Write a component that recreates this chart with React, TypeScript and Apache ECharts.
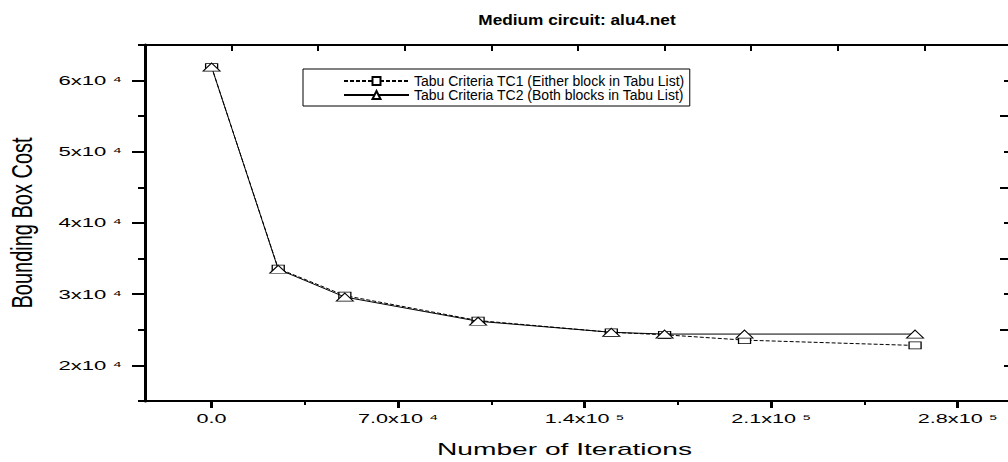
import React, { useEffect, useRef } from 'react';
import * as echarts from 'echarts';

const TITLE = 'Medium circuit: alu4.net';
const X_NAME = 'Number of Iterations';
const Y_NAME = 'Bounding Box Cost';
const SERIES_NAMES = [
  'Tabu Criteria TC1 (Either block in Tabu List)',
  'Tabu Criteria TC2 (Both blocks in Tabu List)',
];
const ITERATIONS = [0, 25000, 50000, 100000, 150000, 170000, 200000, 264000];
const TC1_COST = [61900, 33600, 29800, 26300, 24650, 24300, 23550, 22800];
const TC2_COST = [61900, 33500, 29600, 26200, 24650, 24400, 24400, 24400];

const X_TICKS = [0, 70000, 140000, 210000, 280000];
const X_TICK_LABELS = ['0.0', '7.0x10 ⁴', '1.4x10 ⁵', '2.1x10 ⁵', '2.8x10 ⁵'];
const X_MINOR = [35000, 105000, 175000, 245000];
const Y_TICKS = [20000, 30000, 40000, 50000, 60000];
const Y_TICK_LABELS = ['2x10 ⁴', '3x10 ⁴', '4x10 ⁴', '5x10 ⁴', '6x10 ⁴'];
const Y_MINOR = [15000, 25000, 35000, 45000, 55000, 65000];

const FONT = "'Liberation Sans', Arial, sans-serif";
const X_MIN = -25000;
const X_MAX = 300000;
const Y_MIN = 15000;
const Y_MAX = 65000;

function stretchTexts(host: HTMLDivElement) {
  const svg = host.querySelector('svg');
  if (!svg) return;
  const sr = svg.getBoundingClientRect();
  svg.querySelectorAll('text').forEach((node) => {
    const t = node as SVGTextElement;
    if (t.getAttribute('data-st')) return;
    const c = (t.textContent || '').trim();
    let s = 1;
    let right = false;
    if (X_TICK_LABELS.includes(c)) s = 1.8;
    else if (Y_TICK_LABELS.includes(c)) {
      s = 1.7;
      right = true;
    } else if (c === X_NAME) s = 1.76;
    else if (c === Y_NAME) s = 1.45;
    else if (c === TITLE) s = 1.15;
    if (s === 1) return;
    const r = t.getBoundingClientRect();
    const ax = (right ? r.right : (r.left + r.right) / 2) - sr.left;
    const ay = (r.top + r.bottom) / 2 - sr.top;
    const orig = t.getAttribute('transform') || '';
    t.setAttribute(
      'transform',
      `translate(${ax} ${ay}) scale(${s} 1) translate(${-ax} ${-ay}) ${orig}`.trim()
    );
    t.setAttribute('data-st', '1');
  });
}

export default function App() {
  const ref = useRef<HTMLDivElement>(null);
  useEffect(() => {
    const el = ref.current as HTMLDivElement;
    const chart = echarts.init(el, undefined, { renderer: 'svg' });
    const black = '#000';
    const option: any = {
      animation: false,
      backgroundColor: '#fff',
      title: {
        text: TITLE,
        left: 577,
        top: 12,
        textAlign: 'center',
        padding: 0,
        textStyle: { fontSize: 15, fontWeight: 'bold', color: black, fontFamily: FONT },
      },
      legend: {
        orient: 'vertical',
        left: 303,
        top: 69,
        padding: [5, 5, 4, 40],
        itemGap: 0,
        itemWidth: 65,
        itemHeight: 10,
        borderColor: black,
        borderWidth: 1,
        backgroundColor: '#fff',
        textStyle: { color: black, fontSize: 14, fontFamily: FONT },
        data: SERIES_NAMES,
      },
      grid: { left: 145, right: 1, top: 45, bottom: 59, containLabel: false },
      xAxis: [
        {
          type: 'value',
          position: 'bottom',
          min: X_MIN,
          max: X_MAX,
          axisLine: { show: true, onZero: false, lineStyle: { color: black, width: 2 } },
          axisTick: { show: true, customValues: X_TICKS, length: 7, lineStyle: { color: black, width: 3 } },
          axisLabel: {
            show: true,
            customValues: X_TICKS,
            margin: 12,
            color: black,
            fontSize: 12,
            fontFamily: FONT,
            formatter: (v: number) => {
              const i = X_TICKS.indexOf(v);
              return i >= 0 ? X_TICK_LABELS[i] : '';
            },
          },
          splitLine: { show: false },
          name: X_NAME,
          nameLocation: 'middle',
          nameGap: 40,
          nameTextStyle: { color: black, fontSize: 16, fontFamily: FONT, padding: [0, 27, 0, 0] },
        },
        {
          type: 'value',
          position: 'bottom',
          min: X_MIN,
          max: X_MAX,
          axisLine: { show: false, onZero: false },
          axisTick: { show: true, customValues: X_MINOR, length: 4, lineStyle: { color: black, width: 2 } },
          axisLabel: { show: false },
          splitLine: { show: false },
        },
        {
          type: 'value',
          position: 'top',
          min: 0,
          max: 10,
          interval: 1,
          axisLine: { show: true, onZero: false, lineStyle: { color: black, width: 2 } },
          axisTick: { show: true, inside: true, length: 6, lineStyle: { color: black, width: 2 } },
          axisLabel: { show: false },
          splitLine: { show: false },
        },
      ],
      yAxis: [
        {
          type: 'value',
          position: 'left',
          min: Y_MIN,
          max: Y_MAX,
          axisLine: { show: true, onZero: false, lineStyle: { color: black, width: 3 } },
          axisTick: { show: true, customValues: Y_TICKS, length: 13, lineStyle: { color: black, width: 2 } },
          axisLabel: {
            show: true,
            customValues: Y_TICKS,
            margin: 23,
            color: black,
            fontSize: 13,
            fontFamily: FONT,
            formatter: (v: number) => {
              const i = Y_TICKS.indexOf(v);
              return i >= 0 ? Y_TICK_LABELS[i] : '';
            },
          },
          splitLine: { show: false },
          name: Y_NAME,
          nameLocation: 'middle',
          nameRotate: 90,
          nameGap: 113,
          nameTextStyle: { color: black, fontSize: 20, fontFamily: FONT },
        },
        {
          type: 'value',
          position: 'left',
          min: Y_MIN,
          max: Y_MAX,
          axisLine: { show: false, onZero: false },
          axisTick: { show: true, customValues: Y_MINOR, length: 7, lineStyle: { color: black, width: 2 } },
          axisLabel: { show: false },
          splitLine: { show: false },
        },
        {
          type: 'value',
          position: 'right',
          min: Y_MIN,
          max: Y_MAX,
          axisLine: { show: true, onZero: false, lineStyle: { color: black, width: 2 } },
          axisTick: { show: true, inside: true, customValues: Y_MINOR, length: 11, lineStyle: { color: black, width: 2 } },
          axisLabel: { show: false },
          splitLine: { show: false },
        },
        {
          type: 'value',
          position: 'right',
          min: Y_MIN,
          max: Y_MAX,
          axisLine: { show: false, onZero: false },
          axisTick: { show: true, inside: true, customValues: Y_TICKS, length: 7, lineStyle: { color: black, width: 2 } },
          axisLabel: { show: false },
          splitLine: { show: false },
        },
      ],
      series: [
        {
          name: SERIES_NAMES[0],
          type: 'line',
          xAxisIndex: 0,
          yAxisIndex: 0,
          data: ITERATIONS.map((x, i) => [x, TC1_COST[i]]),
          symbol: 'rect',
          symbolSize: [12, 7],
          lineStyle: { color: black, width: 1, type: [4, 2] },
          itemStyle: { color: '#fff', borderColor: black, borderWidth: 1 },
          z: 2,
        },
        {
          name: SERIES_NAMES[1],
          type: 'line',
          xAxisIndex: 0,
          yAxisIndex: 0,
          data: ITERATIONS.map((x, i) => [x, TC2_COST[i]]),
          symbol: 'triangle',
          symbolSize: [17, 8],
          lineStyle: { color: black, width: 1, type: 'solid' },
          itemStyle: { color: '#fff', borderColor: black, borderWidth: 1 },
          z: 3,
        },
      ],
    };
    chart.setOption(option);
    stretchTexts(el);
    const onFinished = () => stretchTexts(el);
    chart.on('finished', onFinished);
    const raf = requestAnimationFrame(() => stretchTexts(el));
    return () => {
      cancelAnimationFrame(raf);
      chart.dispose();
    };
  }, []);
  return (
    <div
      style={{
        position: 'fixed',
        left: 0,
        top: 0,
        width: 1008,
        height: 462,
        overflow: 'hidden',
        background: '#fff',
      }}
    >
      <div ref={ref} style={{ width: 1012, height: 462 }} />
    </div>
  );
}
